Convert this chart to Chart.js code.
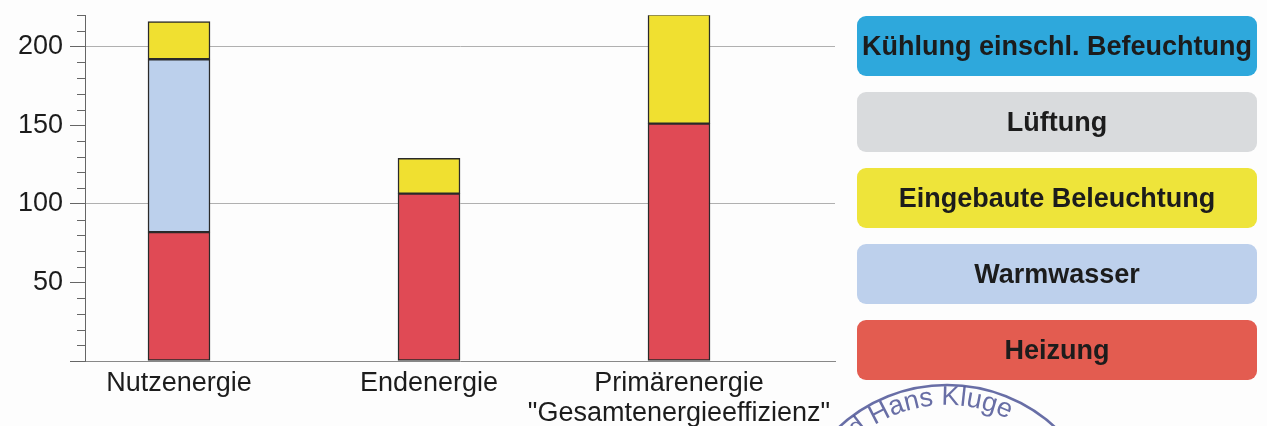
<!DOCTYPE html>
<html>
<head>
<meta charset="utf-8">
<script src="https://cdn.jsdelivr.net/npm/chart.js@4"></script>
<style>
  html, body { margin: 0; padding: 0; background: #fdfdfd; }
  #wrap { position: relative; width: 1267px; height: 426px; overflow: hidden; }
  #chartBox { position: absolute; left: 0; top: -8px; width: 870px; height: 434px; }
  #legend { position: absolute; left: 857px; top: 16px; width: 400px; }
  .item {
    height: 60px; margin-bottom: 16px; border-radius: 9px;
    display: flex; align-items: center; justify-content: center;
    font: bold 27px "Liberation Sans", Arial, sans-serif; color: #1c1c1c;
  }
  #stamp { position: absolute; left: 780px; top: 370px; }
</style>
</head>
<body>
<div id="wrap">
  <div id="chartBox"><canvas id="c"></canvas></div>
  <div id="legend"></div>
  <svg id="stamp" width="340" height="60" viewBox="780 370 340 60">
    <defs><path id="arc" d="M 807 545 A 140 140 0 0 1 1087 545"></path></defs>
    <g fill="none" stroke="#4e5596" opacity="0.85">
      <circle cx="947" cy="545" r="160" stroke-width="2.5"></circle>
      <circle cx="947" cy="545" r="118" stroke-width="1.5"></circle>
    </g>
    <text fill="#4e5596" opacity="0.85" font-family="Liberation Sans, Arial, sans-serif" font-size="27">
      <textPath href="#arc" startOffset="46%" text-anchor="middle">d Hans Kluge</textPath>
    </text>
  </svg>
</div>
<script>
  const categories = ['Nutzenergie', 'Endenergie', ['Primärenergie', '"Gesamtenergieeffizienz"']];
  const seriesNames = ['Heizung', 'Warmwasser', 'Eingebaute Beleuchtung', 'Lüftung', 'Kühlung einschl. Befeuchtung'];
  const heizung = [82, 106.5, 151];
  const warmwasser = [110, null, null];
  const beleuchtung = [24, 22.5, 69.5];
  const lueftung = [null, null, null];
  const kuehlung = [null, null, null];
  const yTickLabels = [50, 100, 150, 200];

  const barColors = ['#e04a55', '#bcd0ec', '#f0e030', '#d9dbdd', '#2ea8dc'];
  const legendColors = ['#e35c50', '#bdd0ec', '#eee43a', '#d9dbdd', '#2ea8dc'];
  const allSeries = [heizung, warmwasser, beleuchtung, lueftung, kuehlung];

  const font = { family: '"Liberation Sans", Arial, sans-serif', size: 27 };

  // kurze Teilstriche alle 10 Einheiten
  const minorTicks = {
    id: 'minorTicks',
    afterDraw(chart) {
      const y = chart.scales.y;
      const ctx = chart.ctx;
      const x0 = chart.chartArea.left;
      ctx.save();
      ctx.strokeStyle = '#666';
      ctx.lineWidth = 1;
      for (let v = 10; v <= 220; v += 10) {
        if (v % 50 === 0) continue;
        const py = Math.round(y.getPixelForValue(v)) + 0.5;
        ctx.beginPath();
        ctx.moveTo(x0 - 8, py);
        ctx.lineTo(x0, py);
        ctx.stroke();
      }
      ctx.restore();
    }
  };

  new Chart(document.getElementById('c'), {
    type: 'bar',
    data: {
      datasets: allSeries.map((vals, i) => ({
        label: seriesNames[i],
        data: vals.map((v, k) => ({ x: k, y: v })),
        backgroundColor: barColors[i],
        borderColor: '#2a2a2a',
        borderWidth: 1.5,
        borderSkipped: false,
        barThickness: 62,
      })),
    },
    options: {
      responsive: true,
      maintainAspectRatio: false,
      animation: false,
      layout: { padding: { top: 7, right: 35, left: 0, bottom: 0 } },
      plugins: { legend: { display: false }, tooltip: { enabled: false } },
      scales: {
        x: {
          type: 'linear',
          stacked: true,
          offset: false,
          min: -0.376,
          max: 2.624,
          afterBuildTicks: (scale) => { scale.ticks = categories.map((c, i) => ({ value: i })); },
          afterFit: (scale) => { scale.height = 65; },
          ticks: {
            autoSkip: false,
            maxRotation: 0,
            padding: 8,
            color: '#1c1c1c',
            font: { ...font, lineHeight: 1.1 },
            callback: (v) => categories[v],
          },
          grid: { display: false, drawTicks: false },
          border: { display: true, color: '#888', width: 1 },
        },
        y: {
          stacked: true,
          min: 0,
          max: 220,
          afterFit: (scale) => { scale.width = 85; },
          ticks: {
            autoSkip: false,
            stepSize: 10,
            padding: 7,
            color: '#1c1c1c',
            font: font,
            callback: (v) => (yTickLabels.includes(v) ? v : ''),
          },
          grid: {
            color: (ctx) => (ctx.tick && (ctx.tick.value === 100 || ctx.tick.value === 200) ? '#b0b0b0' : 'rgba(0,0,0,0)'),
            tickColor: (ctx) => (ctx.tick && ctx.tick.value % 50 === 0 ? '#666' : 'rgba(0,0,0,0)'),
            tickLength: 15,
            lineWidth: 1,
          },
          border: { display: true, color: '#666', width: 1 },
        },
      },
    },
    plugins: [minorTicks],
  });

  const legend = document.getElementById('legend');
  for (let i = seriesNames.length - 1; i >= 0; i--) {
    const d = document.createElement('div');
    d.className = 'item';
    d.style.background = legendColors[i];
    d.textContent = seriesNames[i];
    legend.appendChild(d);
  }
</script>
</body>
</html>
